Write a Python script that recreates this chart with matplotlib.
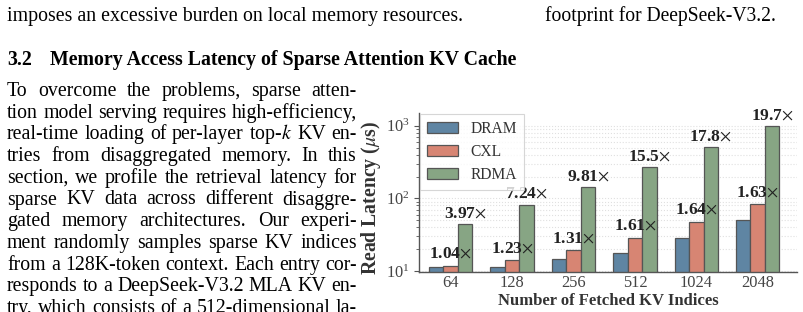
import matplotlib
matplotlib.use("Agg")
import matplotlib.pyplot as plt
from matplotlib.transforms import IdentityTransform
import numpy as np

plt.rcParams['font.family'] = ['Liberation Serif', 'DejaVu Serif']
plt.rcParams['mathtext.fontset'] = 'stix'

# chart data
kv_indices = ['64', '128', '256', '512', '1024', '2048']
dram = [11.2, 11.4, 14.7, 17.6, 28.9, 50.8]
cxl = [11.7, 14.0, 19.3, 28.5, 47.5, 82.8]
rdma = [44.3, 81.9, 143, 272, 510, 995]
cxl_speedup = ['1.04', '1.23', '1.31', '1.61', '1.64', '1.63']
rdma_speedup = ['3.97', '7.24', '9.81', '15.5', '17.8', '19.7']

# surrounding page text
top_left = "imposes an excessive burden on local memory resources."
top_right = "footprint for DeepSeek-V3.2."
heading_num = "3.2"
heading = "Memory Access Latency of Sparse Attention KV Cache"
body = [
    "To overcome the problems, sparse atten-",
    "tion model serving requires high-efficiency,",
    "real-time loading of per-layer top-$k$ KV en-",
    "tries from disaggregated memory. In this",
    "section, we profile the retrieval latency for",
    "sparse KV data across different disaggre-",
    "gated memory architectures. Our experi-",
    "ment randomly samples sparse KV indices",
    "from a 128K-token context. Each entry cor-",
    "responds to a DeepSeek-V3.2 MLA KV en-",
    "try, which consists of a 512-dimensional la-",
]

W, H = 804, 312
fig = plt.figure(figsize=(W / 100, H / 100), dpi=100)
renderer = fig.canvas.get_renderer()
px = IdentityTransform()


def put_line(x, base, line, size, weight='normal', width=None):
    if width is None:
        fig.text(x, H - base, line, transform=px, fontsize=size,
                 fontweight=weight, va='baseline', ha='left')
        return
    words = line.split()
    arts = [fig.text(0, H - base, w, transform=px, fontsize=size,
                     fontweight=weight, va='baseline', ha='left') for w in words]
    ws = [a.get_window_extent(renderer).width for a in arts]
    gap = (width - sum(ws)) / (len(words) - 1)
    pos = x
    for a, w in zip(arts, ws):
        a.set_x(pos)
        pos += w + gap


put_line(7, 21, top_left, 14.3)
put_line(545, 21, top_right, 14.15)
put_line(7, 65, heading_num, 14.3, weight='bold')
put_line(50, 65, heading, 14.3, weight='bold')
for i, line in enumerate(body):
    put_line(7, 96 + i * 21.7, line, 14.3, width=350)

# chart
ax = fig.add_axes([419 / W, 40 / H, 378 / W, 159 / H])
ax.set_yscale('log')
x = np.arange(len(kv_indices))
bw = 0.235
off = 0.237
edge = '#555555'
ax.bar(x - off, dram, bw, color='#5f85a3', edgecolor=edge, linewidth=0.9, label='DRAM')
ax.bar(x, cxl, bw, color='#d78573', edgecolor=edge, linewidth=0.9, label='CXL')
ax.bar(x + off, rdma, bw, color='#87a584', edgecolor=edge, linewidth=0.9, label='RDMA')

for i in range(len(x)):
    ax.annotate(cxl_speedup[i] + r'$\times$', (x[i], cxl[i]), xytext=(0, 3),
                textcoords='offset points', ha='center', va='bottom',
                fontsize=12.5, fontweight='bold', color='#222222')
    ax.annotate(rdma_speedup[i] + r'$\times$', (x[i] + off, rdma[i]), xytext=(0, 2),
                textcoords='offset points', ha='center', va='bottom',
                fontsize=12.5, fontweight='bold', color='#222222')

ax.set_xlim(-0.516, 5.64)
ax.set_ylim(9.7, 1500)
ax.set_xticks(x)
ax.set_xticklabels(kv_indices)
ax.tick_params(axis='x', length=0, pad=2.5, labelsize=11.8, labelcolor='#444444')
ax.tick_params(axis='y', which='major', length=3.5, width=0.8, color='#555555',
               pad=3, labelsize=11.8, labelcolor='#444444')
ax.tick_params(axis='y', which='minor', length=2, width=0.6, color='#555555')
ax.yaxis.grid(True, which='both', linestyle=':', color='#e0e0e0', linewidth=0.8)
ax.set_axisbelow(True)
for s in ['top', 'right']:
    ax.spines[s].set_visible(False)
for s in ['left', 'bottom']:
    ax.spines[s].set_color('#555555')
    ax.spines[s].set_linewidth(1.0)

ax.set_ylabel(r'Read Latency ($\mu$s)', fontsize=14.2, fontweight='bold', color='#333333')
ax.yaxis.set_label_coords(-0.128, 0.469)
ax.yaxis.label.set_va('center')
ax.set_xlabel('Number of Fetched KV Indices', fontsize=12, fontweight='bold', color='#333333')
ax.xaxis.set_label_coords(0.5, -0.18)
ax.xaxis.label.set_va('center')

leg = ax.legend(loc='upper left', bbox_to_anchor=(0, 1.0), borderaxespad=0.05,
                frameon=True, fancybox=False, edgecolor='#cccccc', fontsize=11.2,
                handlelength=2.0, handleheight=0.75, handletextpad=0.8,
                labelspacing=0.45, borderpad=0.45)
leg.get_frame().set_linewidth(0.8)
for t in leg.get_texts():
    t.set_color('#333333')

fig.savefig('out.png', dpi=100)
